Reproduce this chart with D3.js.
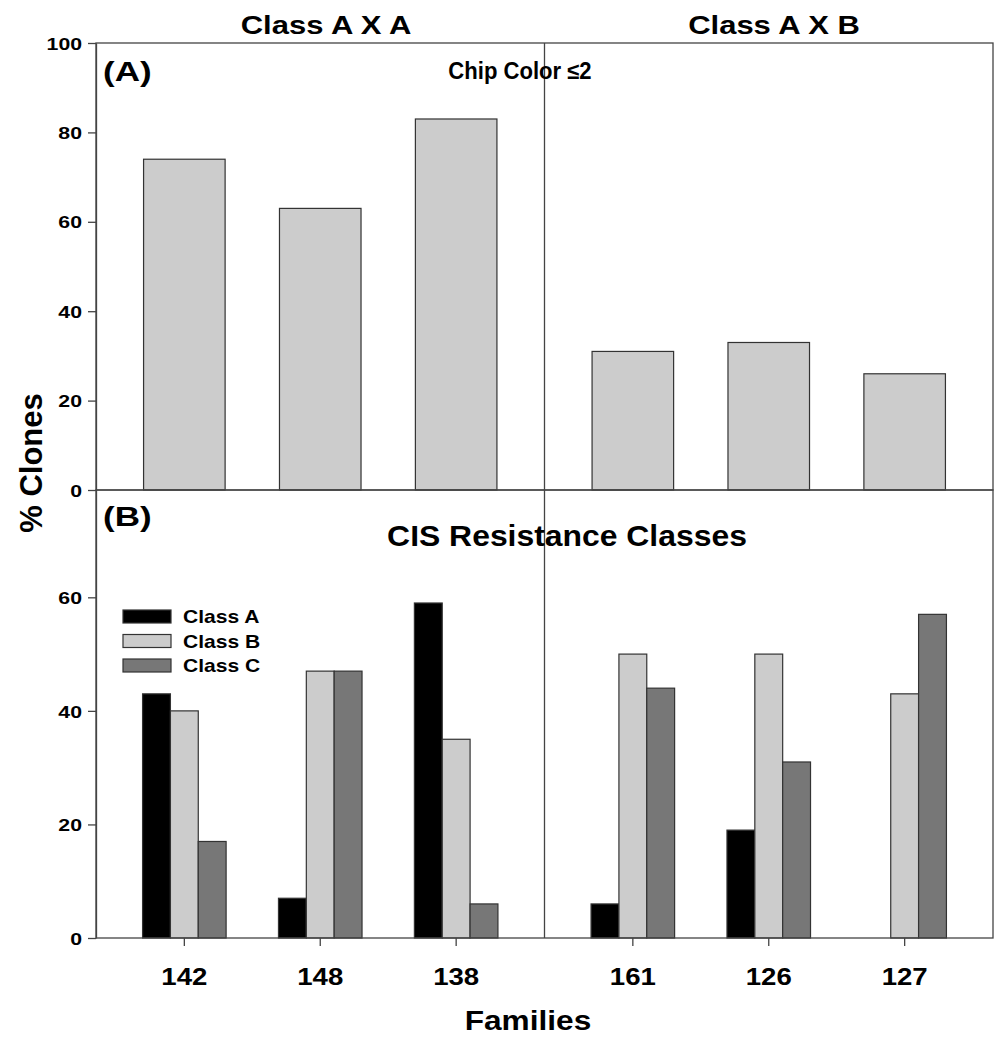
<!DOCTYPE html>
<html>
<head>
<meta charset="utf-8">
<script src="https://cdn.jsdelivr.net/npm/d3@7"></script>
<style>
  body { margin: 0; background: #fff; }
  text { font-family: "Liberation Sans", Arial, sans-serif; font-weight: bold; fill: #000; }
</style>
</head>
<body>
<svg id="chart" width="1000" height="1040"></svg>
<script>
// crosses, and the families inside each cross
const crosses = ['Class A X A', 'Class A X B'];
const familiesAA = ['142', '148', '138'];
const familiesAB = ['161', '126', '127'];

// (A) chip color <= 2, % clones per family
const chipColor = [74, 63, 83, 31, 33, 26];

// (B) CIS resistance classes, % clones per family
const classNames = ['Class A', 'Class B', 'Class C'];
const classA = [43, 7, 59, 6, 19, 0];
const classB = [40, 47, 35, 50, 50, 43];
const classC = [17, 47, 6, 44, 31, 57];

const yTicksA = [0, 20, 40, 60, 80, 100];
const yTicksB = [0, 20, 40, 60];

const classColors = ['#000000', '#cccccc', '#777777'];
const lineColor = '#444';
const barStroke = '#333';

const svg = d3.select('#chart');

const left = 96, right = 993, mid = (left + right) / 2;
const topA = 43, baseA = 490, baseB = 938;

// each cross gets its own half of the plot
const xAA = d3.scaleBand().domain(familiesAA).range([left, mid]).paddingInner(0.4).paddingOuter(0.35);
const xAB = d3.scaleBand().domain(familiesAB).range([mid, right]).paddingInner(0.4).paddingOuter(0.35);
const families = familiesAA.concat(familiesAB);
const xOf = f => (familiesAA.includes(f) ? xAA : xAB);
const bw = xAA.bandwidth();

const yA = d3.scaleLinear().domain([0, 100]).range([baseA, topA]);
const yB = d3.scaleLinear().domain([0, 78.9]).range([baseB, baseA]);

// text that is a bit wider than the installed fonts draw it
function label(g, txt, x, y, size, sx, anchor, rotate) {
  return g.append('text')
    .attr('transform', `translate(${x},${y})` + (rotate ? ` rotate(${rotate})` : '') + ` scale(${sx},1)`)
    .attr('font-size', size)
    .attr('text-anchor', anchor || 'middle')
    .text(txt);
}

// ---- panel A bars
const rowsA = families.map((f, i) => ({ family: f, value: chipColor[i] }));
svg.append('g').selectAll('rect')
  .data(rowsA)
  .join('rect')
  .attr('x', d => xOf(d.family)(d.family))
  .attr('width', bw)
  .attr('y', d => yA(d.value))
  .attr('height', d => yA(0) - yA(d.value))
  .attr('fill', '#cccccc')
  .attr('stroke', barStroke)
  .attr('stroke-width', 1.2);

// ---- panel B grouped bars
const series = [classA, classB, classC];
const xSub = d3.scaleBand().domain(classNames).range([-1, bw + 1]);
const rowsB = families.flatMap((f, i) =>
  classNames.map((c, j) => ({ family: f, cls: c, idx: j, value: series[j][i] }))
).filter(d => d.value > 0);

svg.append('g').selectAll('rect')
  .data(rowsB)
  .join('rect')
  .attr('x', d => xOf(d.family)(d.family) + xSub(d.cls))
  .attr('width', xSub.bandwidth())
  .attr('y', d => yB(d.value))
  .attr('height', d => yB(0) - yB(d.value))
  .attr('fill', d => classColors[d.idx])
  .attr('stroke', barStroke)
  .attr('stroke-width', 1.2);

// ---- frames
const frame = svg.append('g').attr('stroke', lineColor).attr('stroke-width', 1.3).attr('fill', 'none');
frame.append('rect').attr('x', left).attr('y', topA).attr('width', right - left).attr('height', baseA - topA);
frame.append('rect').attr('x', left).attr('y', baseA).attr('width', right - left).attr('height', baseB - baseA);
frame.append('line').attr('x1', mid).attr('x2', mid).attr('y1', topA).attr('y2', baseB);

// ---- y axes
function yAxis(scale, ticks) {
  const g = svg.append('g')
    .attr('transform', `translate(${left},0)`)
    .call(d3.axisLeft(scale).tickValues(ticks).tickSize(8).tickPadding(6).tickSizeOuter(0));
  g.select('.domain').attr('stroke', lineColor).attr('stroke-width', 1.3);
  g.selectAll('.tick line').attr('stroke', lineColor).attr('stroke-width', 1.3);
  g.selectAll('.tick text')
    .attr('font-size', 17)
    .attr('font-family', '"Liberation Sans", Arial, sans-serif')
    .attr('fill', '#000')
    .attr('x', -14 / 1.25)
    .attr('dy', '0.36em')
    .attr('transform', 'scale(1.25,1)');
}
yAxis(yA, yTicksA);
yAxis(yB, yTicksB);

// ---- x axis (two halves)
[xAA, xAB].forEach(x => {
  const g = svg.append('g')
    .attr('transform', `translate(0,${baseB})`)
    .call(d3.axisBottom(x).tickSize(8).tickPadding(0).tickSizeOuter(0));
  g.select('.domain').remove();
  g.selectAll('.tick line').attr('stroke', lineColor).attr('stroke-width', 1.3);
  g.selectAll('.tick text')
    .attr('font-size', 24)
    .attr('font-family', '"Liberation Sans", Arial, sans-serif')
    .attr('fill', '#000')
    .attr('y', 47)
    .attr('dy', 0)
    .attr('transform', 'scale(1.15,1)');
});

// ---- titles and labels
const txt = svg.append('g');
label(txt, crosses[0], 326, 34, 25, 1.24);
label(txt, crosses[1], 774, 34, 25, 1.24);
label(txt, '(A)', 103, 81, 28, 1.25, 'start');
label(txt, 'Chip Color \u22642', 520, 79, 23, 0.96);
label(txt, '(B)', 103, 526, 28, 1.25, 'start');
label(txt, 'CIS Resistance Classes', 567, 546, 29, 1.1);
label(txt, '% Clones', 42, 463, 31, 1.0, 'middle', -90);
label(txt, 'Families', 528, 1030, 28, 1.13);

// ---- legend
const legend = svg.append('g').attr('transform', 'translate(123,610)');
classNames.forEach((c, i) => {
  legend.append('rect')
    .attr('x', 0).attr('y', i * 24.5)
    .attr('width', 48).attr('height', 13)
    .attr('fill', classColors[i])
    .attr('stroke', barStroke)
    .attr('stroke-width', 1.2);
  label(legend, c, 60, i * 24.5 + 13, 18, 1.17, 'start');
});
</script>
</body>
</html>
